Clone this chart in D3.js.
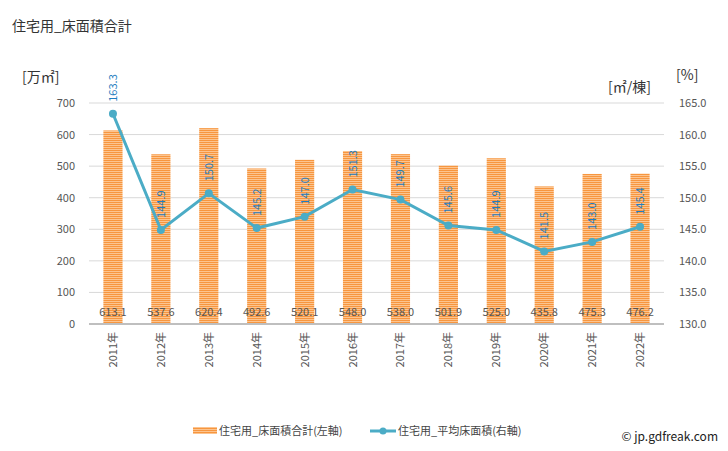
<!DOCTYPE html>
<html><head><meta charset="utf-8">
<script src="https://cdn.jsdelivr.net/npm/d3@7"></script>
<style>body{margin:0;background:#fff;font-family:"Noto Sans CJK JP","Noto Sans",sans-serif;}</style>
</head><body><svg id="c" width="728" height="451"></svg>
<script>
const years = ["2011年","2012年","2013年","2014年","2015年","2016年","2017年","2018年","2019年","2020年","2021年","2022年"];
const totalArea = [613.1,537.6,620.4,492.6,520.1,548.0,538.0,501.9,525.0,435.8,475.3,476.2];
const avgArea = [163.3,144.9,150.7,145.2,147.0,151.3,149.7,145.6,144.9,141.5,143.0,145.4];
const leftTicks = [0,100,200,300,400,500,600,700];
const rightTicks = [130,135,140,145,150,155,160,165];

(function(){
const svg = d3.select("#c");
const font = '"Noto Sans CJK JP","Noto Sans",sans-serif';
const pL = 89, pR = 664, pT = 103, pB = 324;
const x = d3.scaleBand().domain(years).range([pL, pR]).paddingInner(0.6).paddingOuter(0.3);
const xc = d => x(d) + x.bandwidth()/2;
const yL = d3.scaleLinear().domain([0,700]).range([pB, pT]);
const yR = d3.scaleLinear().domain([130,165]).range([pB, pT]);

const defs = svg.append("defs");
const pat = defs.append("pattern").attr("id","stripe").attr("patternUnits","userSpaceOnUse").attr("width",4).attr("height",2);
pat.append("rect").attr("width",4).attr("height",2).attr("fill","#fcc48f");
pat.append("rect").attr("width",4).attr("height",1).attr("fill","#f7963f");

svg.append("text").attr("x",12).attr("y",31).attr("font-size",14).attr("fill","#333").attr("font-family",font).text("住宅用_床面積合計");

svg.append("g").selectAll("line").data(leftTicks.slice(1)).join("line")
  .attr("x1",pL).attr("x2",pR).attr("y1",d=>yL(d)).attr("y2",d=>yL(d))
  .attr("stroke","#d9d9d9").attr("stroke-width",1);

const gl = svg.append("g").attr("transform",`translate(${pL},0)`)
  .call(d3.axisLeft(yL).tickValues(leftTicks).tickSize(0).tickPadding(14).tickFormat(d3.format("d")));
gl.select(".domain").remove();
gl.selectAll("text").attr("font-size",11).attr("fill","#555").attr("font-family",font);

const gr = svg.append("g").attr("transform",`translate(${pR},0)`)
  .call(d3.axisRight(yR).tickValues(rightTicks).tickSize(0).tickPadding(15).tickFormat(d3.format(".1f")));
gr.select(".domain").remove();
gr.selectAll("text").attr("font-size",11).attr("fill","#555").attr("font-family",font);

svg.append("text").attr("x",22).attr("y",82).attr("font-size",14).attr("fill","#333").attr("font-family",font).text("[万㎡]");
svg.append("text").attr("x",676).attr("y",80).attr("font-size",14).attr("fill","#333").attr("font-family",font).text("[%]");
svg.append("text").attr("x",608).attr("y",92).attr("font-size",14).attr("fill","#333").attr("font-family",font).text("[㎡/棟]");

svg.append("g").selectAll("rect").data(years).join("rect")
  .attr("x",d=>x(d)).attr("width",x.bandwidth())
  .attr("y",(d,i)=>yL(totalArea[i])).attr("height",(d,i)=>pB-yL(totalArea[i]))
  .attr("fill","url(#stripe)");

svg.append("line").attr("x1",pL).attr("x2",pR).attr("y1",pB).attr("y2",pB).attr("stroke","#bfbfbf").attr("stroke-width",2);

svg.append("g").selectAll("text").data(years).join("text")
  .attr("x",d=>xc(d)).attr("y",316).attr("text-anchor","middle")
  .attr("font-size",11).attr("fill","#555").attr("font-family",font)
  .text((d,i)=>totalArea[i].toFixed(1));

svg.append("g").selectAll("text").data(years).join("text")
  .attr("transform",d=>`translate(${xc(d)+4},332) rotate(-90)`).attr("text-anchor","end")
  .attr("font-size",11).attr("fill","#555").attr("font-family",font).text(d=>d);

const line = d3.line().x((d,i)=>xc(years[i])).y(d=>yR(d));
svg.append("path").datum(avgArea).attr("d",line).attr("fill","none").attr("stroke","#4bacc6").attr("stroke-width",3);
svg.append("g").selectAll("circle").data(avgArea).join("circle")
  .attr("cx",(d,i)=>xc(years[i])).attr("cy",d=>yR(d)).attr("r",4).attr("fill","#4bacc6");
svg.append("g").selectAll("text").data(avgArea).join("text")
  .attr("transform",(d,i)=>`translate(${xc(years[i])+4},${yR(d)-12}) rotate(-90)`)
  .attr("font-size",11).attr("fill","#1f7ec0").attr("font-family",font).text(d=>d.toFixed(1));

svg.append("rect").attr("x",193).attr("y",427).attr("width",24).attr("height",7).attr("fill","url(#stripe)");
svg.append("text").attr("x",219).attr("y",435).attr("font-size",11).attr("fill","#444").attr("font-family",font).text("住宅用_床面積合計(左軸)");
svg.append("line").attr("x1",370).attr("x2",396).attr("y1",431).attr("y2",431).attr("stroke","#4bacc6").attr("stroke-width",3);
svg.append("circle").attr("cx",383).attr("cy",431).attr("r",3.5).attr("fill","#4bacc6");
svg.append("text").attr("x",398).attr("y",435).attr("font-size",11).attr("fill","#444").attr("font-family",font).text("住宅用_平均床面積(右軸)");
svg.append("text").attr("x",718).attr("y",441).attr("text-anchor","end").attr("font-size",12).attr("fill","#222").attr("font-family",font).text("© jp.gdfreak.com");
})();
</script></body></html>
